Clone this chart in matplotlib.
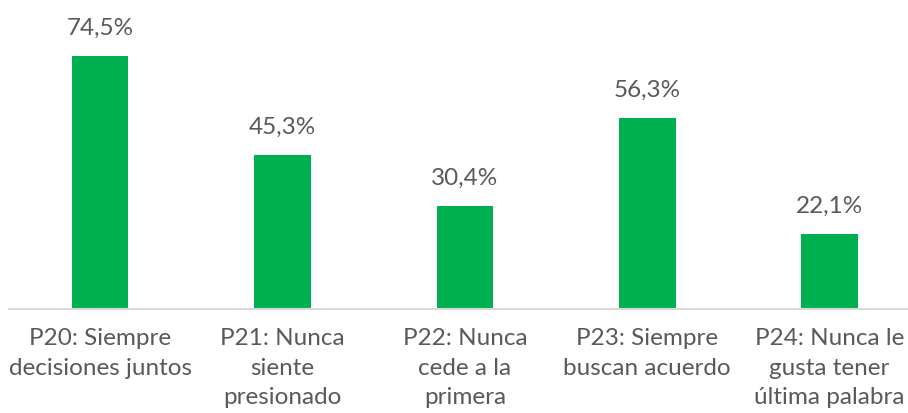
import matplotlib
matplotlib.use("Agg")
import matplotlib.pyplot as plt

plt.rcParams["font.family"] = ["Lato", "DejaVu Sans"]

# 数据
categories = [
    "P20: Siempre\ndecisiones juntos",
    "P21: Nunca\nsiente\npresionado",
    "P22: Nunca\ncede a la\nprimera",
    "P23: Siempre\nbuscan acuerdo",
    "P24: Nunca le\ngusta tener\núltima palabra",
]
values = [74.5, 45.3, 30.4, 56.3, 22.1]
value_labels = ["74,5%", "45,3%", "30,4%", "56,3%", "22,1%"]

text_color = "#595959"

fig = plt.figure(figsize=(9.08, 4.13), dpi=100)
ax = fig.add_axes([9 / 908, 104 / 413, 899 / 908, 272 / 413])

x = list(range(len(values)))
bars = ax.bar(x, values, width=0.31, color="#00B050", zorder=2)

for xi, v, lab in zip(x, values, value_labels):
    ax.annotate(lab, (xi, v), xytext=(0, 12), textcoords="offset points",
                ha="center", va="bottom", fontsize=17.5, color=text_color)

ax.set_xlim(-0.5, 4.43)
ax.set_ylim(0, 80)
ax.set_xticks(x)
ax.set_xticklabels(categories, fontsize=17.5, color=text_color, linespacing=1.5)
ax.tick_params(axis="x", length=0, pad=14)
ax.set_yticks([])

for s in ["top", "right", "left"]:
    ax.spines[s].set_visible(False)
ax.spines["bottom"].set_color("#D9D9D9")
ax.spines["bottom"].set_linewidth(1.5)

fig.savefig("out.png", dpi=100)
plt.close(fig)
